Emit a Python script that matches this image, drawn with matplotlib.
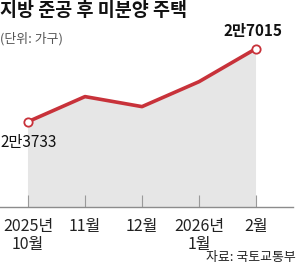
import matplotlib
matplotlib.use("Agg")
import matplotlib.pyplot as plt

plt.rcParams['font.family'] = ['Noto Sans CJK KR', 'DejaVu Sans']

months = ["2025년\n10월", "11월", "12월", "2026년\n1월", "2월"]
values = [23733, 24860, 24410, 25530, 27015]
first_label = "2만3733"
last_label = "2만7015"

title = "지방 준공 후 미분양 주택"
unit = "(단위: 가구)"
source = "자료: 국토교통부"

W, H = 300, 268
fig = plt.figure(figsize=(W / 100, H / 100), dpi=100)
fig.patch.set_facecolor("white")

ax = fig.add_axes([0, 61 / H, 293 / W, 207 / H])
ax.set_facecolor("none")
x = list(range(len(values)))

red = "#c8323a"
ax.fill_between(x, values, 0, color="#e6e6e6", lw=0, zorder=1)
ax.plot(x, values, color=red, lw=2.6, zorder=3, solid_capstyle="round")
ax.plot([x[0], x[-1]], [values[0], values[-1]], "o", ms=6, mfc="white",
        mec=red, mew=1.3, zorder=4)

ax.set_xlim(-0.491, 4.649)
ax.set_ylim(19900, 29200)

for s in ["top", "right", "left"]:
    ax.spines[s].set_visible(False)
ax.spines["bottom"].set_color("#8c8c8c")
ax.spines["bottom"].set_linewidth(1.0)
ax.set_yticks([])
ax.set_xticks(x)
ax.set_xticklabels(months, fontsize=11.5, color="#222222", linespacing=1.1,
                   va="top")
ax.tick_params(axis="x", direction="in", length=9, width=0.8,
               color="#9a9a9a", pad=8)

fig.text(0.5 / W, 1 - 142 / H, first_label, fontsize=11, color="#111111",
         ha="left", va="center")
fig.text(253 / W, 1 - 31 / H, last_label, fontsize=11, fontweight="bold",
         color="#111111", ha="center", va="center")

fig.text(0.5 / W, 1 - 11 / H, title, fontsize=13.3, fontweight="bold",
         color="#111111", ha="left", va="center")
fig.text(0.5 / W, 1 - 39 / H, unit, fontsize=9.3, color="#555555",
         ha="left", va="center")
fig.text(296 / W, 1 - 257 / H, source, fontsize=9.3, color="#222222",
         ha="right", va="center")

fig.savefig("out.png", dpi=100, facecolor="white")
